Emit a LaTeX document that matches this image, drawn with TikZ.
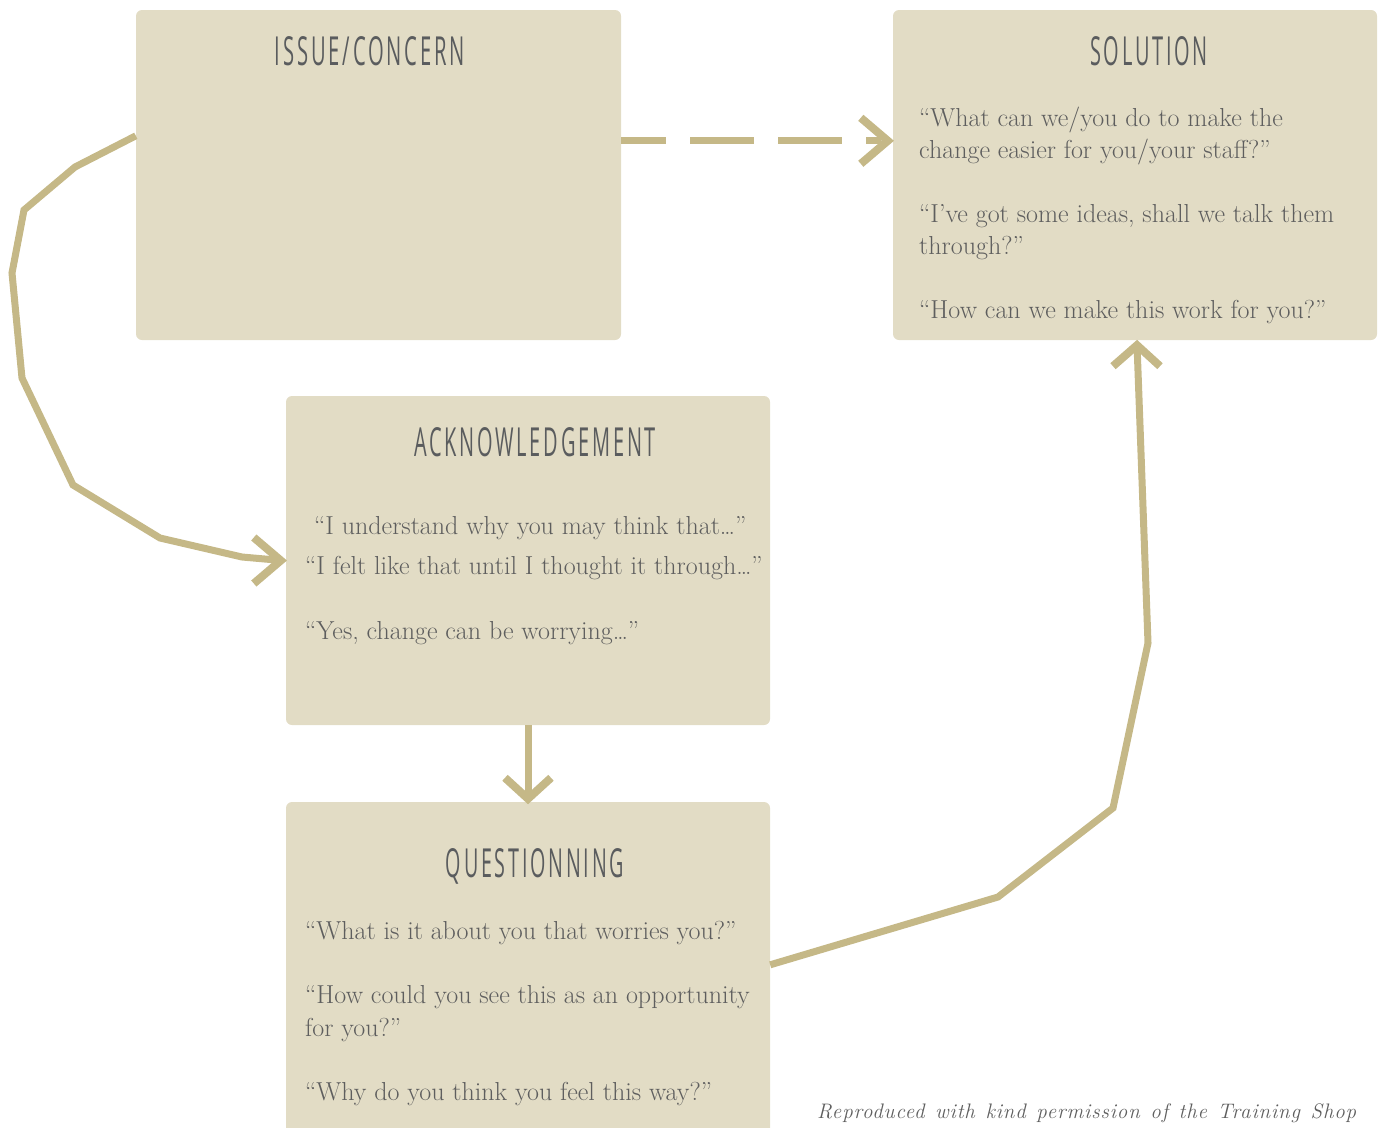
\documentclass[tikz,border=0pt]{standalone}
\usepackage{fontspec}
\usepackage{graphicx}
\newfontfamily\tfont[LetterSpace=14]{Open Sans}
\newfontfamily\footfont[LetterSpace=4]{Latin Modern Roman}
\definecolor{boxfill}{HTML}{E2DCC5}
\definecolor{arrowcol}{HTML}{C5B887}
\definecolor{txtcol}{HTML}{5E5E5E}
\definecolor{titlecol}{HTML}{5A5C5E}
\newcommand{\ttl}[2]{\resizebox{#1pt}{29pt}{\tfont #2}}
\tikzset{
  stage/.style={draw=none, fill=boxfill, rounded corners=6pt, inner sep=0pt},
  conn/.style={draw=arrowcol, line width=7pt, line join=miter},
  chev/.style={draw=arrowcol, line width=8pt, line join=miter, miter limit=10},
  ttlnode/.style={text=titlecol, inner sep=0pt, anchor=base},
  body/.style={text=txtcol, inner sep=0pt, anchor=base west, font=\fontsize{26}{30}\selectfont},
}
\begin{document}
\begin{tikzpicture}[x=1pt,y=-1pt]
\useasboundingbox (0,0) rectangle (1383,1127);
\clip (0,0) rectangle (1383,1127);
% boxes
\node[stage, minimum width=485pt, minimum height=330pt] (issue) at (378.5,175) {};
\node[stage, minimum width=484pt, minimum height=330pt] (sol) at (1135,175) {};
\node[stage, minimum width=484pt, minimum height=329pt] (ack) at (528,560.5) {};
\node[stage, minimum width=484pt, minimum height=340pt] (quest) at (528,972) {};
% titles
\node[ttlnode] (t1) at (370,65) {\ttl{190}{ISSUE/CONCERN}};
\node[ttlnode] (t2) at (1149,65) {\ttl{118}{SOLUTION}};
\node[ttlnode] (t3) at (535,456) {\ttl{242}{ACKNOWLEDGEMENT}};
\node[ttlnode] (t4) at (535,877) {\ttl{178}{QUESTIONNING}};
% solution text
\node[body] (s1) at (919,126) {“What can we/you do to make the};
\node[body] (s2) at (919,158) {change easier for you/your staff?”};
\node[body] (s3) at (919,222) {“I’ve got some ideas, shall we talk them};
\node[body] (s4) at (919,254) {through?”};
\node[body] (s5) at (919,318) {“How can we make this work for you?”};
% acknowledgement text
\node[body] (a1) at (314,534) {“I understand why you may think that\ldots”};
\node[body] (a2) at (305,574) {“I felt like that until I thought it through\ldots”};
\node[body] (a3) at (305,639) {“Yes, change can be worrying\ldots”};
% questioning text
\node[body] (q1) at (305,939) {“What is it about you that worries you?”};
\node[body] (q2) at (305,1003) {“How could you see this as an opportunity};
\node[body] (q3) at (305,1036) {for you?”};
\node[body] (q4) at (305,1100) {“Why do you think you feel this way?”};
% footer
\node[text=txtcol, inner sep=0pt, anchor=base west, font=\fontsize{21}{24}\selectfont\footfont\itshape] (foot) at (817,1118) {\makebox[539pt][s]{Reproduced with kind permission of the Training Shop}};
% connector issue -> ack
\coordinate (c1) at (75,167);
\coordinate (c2) at (24,210);
\coordinate (c3) at (12,273);
\coordinate (c4) at (22,378);
\coordinate (c5) at (73,485);
\coordinate (c6) at (160,538);
\coordinate (c7) at (242,557);
\draw[conn] ([yshift=-126pt]issue.north west) -- (c1) -- (c2) -- (c3) -- (c4) -- (c5) -- (c6) -- (c7) -- ([xshift=-4pt]ack.west);
\draw[chev] ([shift={(-32,-23)}]ack.west) -- ([xshift=-5pt]ack.west) -- ([shift={(-32,23)}]ack.west);
% dashed issue -> solution
\draw[conn, dash pattern=on 64pt off 24pt, dash phase=19pt] ([yshift=-131pt]issue.north east) -- ([shift={(-12,131)}]sol.north west);
\draw[chev] ([shift={(-32,108)}]sol.north west) -- ([shift={(-5,131)}]sol.north west) -- ([shift={(-32,154)}]sol.north west);
% ack -> quest
\draw[conn] (ack.south) -- ([yshift=4pt]quest.north);
\draw[chev] ([shift={(-23,-24)}]quest.north) -- ([yshift=3pt]quest.north) -- ([shift={(23,-24)}]quest.north);
% quest -> solution
\coordinate (d1) at (998,897);
\coordinate (d2) at (1113,808);
\coordinate (d3) at (1148,643);
\draw[conn] ([yshift=-163pt]quest.north east) -- (d1) -- (d2) -- (d3) -- ([shift={(2,4)}]sol.south);
\draw[chev] ([shift={(-22,26)}]sol.south) -- ([shift={(2,5)}]sol.south) -- ([shift={(25,26)}]sol.south);
\end{tikzpicture}
\end{document}
